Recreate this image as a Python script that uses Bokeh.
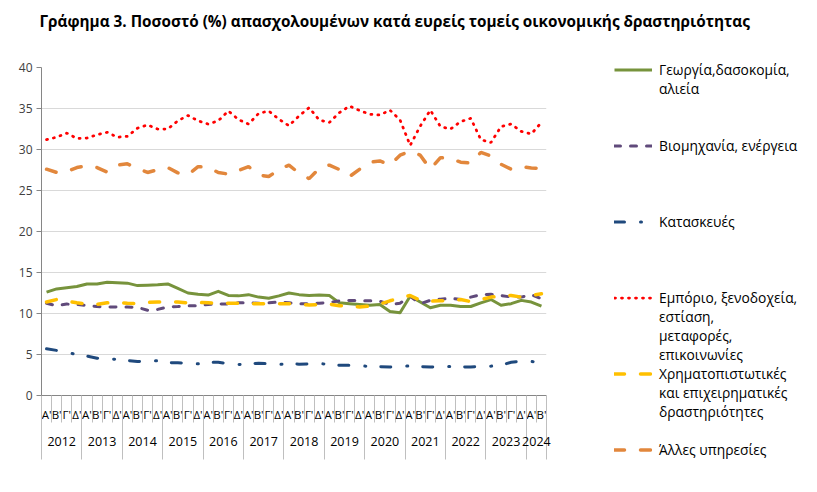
from bokeh.plotting import figure
from bokeh.models import FixedTicker, LinearAxis, Legend, LegendItem, Range1d
from bokeh.layouts import column
from bokeh.embed import file_html
from bokeh.resources import INLINE

# ---------------- data ----------------
title_text = "Γράφημα 3. Ποσοστό (%) απασχολουμένων κατά ευρείς τομείς οικονομικής δραστηριότητας"

years = ["2012", "2013", "2014", "2015", "2016", "2017", "2018",
         "2019", "2020", "2021", "2022", "2023", "2024"]
quarters_per_year = [4, 4, 4, 4, 4, 4, 4, 4, 4, 4, 4, 4, 2]
quarter_names = ["Α'", "Β'", "Γ'", "Δ'"]

series_names = [
    "Γεωργία,δασοκομία,\nαλιεία",
    "Βιομηχανία, ενέργεια",
    "Κατασκευές",
    "Εμπόριο, ξενοδοχεία,\nεστίαση,\nμεταφορές,\nεπικοινωνίες",
    "Χρηματοπιστωτικές\nκαι επιχειρηματικές\nδραστηριότητες",
    "Άλλες υπηρεσίες",
]

agriculture = [12.6, 13.0, 13.15, 13.3, 13.6, 13.6, 13.8, 13.75, 13.7, 13.4,
               13.45, 13.5, 13.6, 13.05, 12.5, 12.35, 12.25, 12.7, 12.2, 12.15,
               12.3, 12.0, 11.85, 12.15, 12.5, 12.3, 12.2, 12.25, 12.2, 11.3,
               11.2, 11.1, 11.0, 11.1, 10.25, 10.1, 12.1, 11.4, 10.7, 11.0,
               11.0, 10.85, 10.85, 11.3, 11.7, 11.0, 11.2, 11.6, 11.4, 10.9]

industry = [11.25, 10.95, 11.15, 11.1, 10.98, 10.85, 10.78, 10.8, 10.8, 10.75,
            10.4, 10.5, 10.8, 10.85, 10.95, 10.95, 11.1, 11.15, 11.17, 11.3,
            11.3, 11.25, 11.3, 11.4, 11.3, 11.2, 11.2, 11.25, 11.35, 11.55,
            11.6, 11.55, 11.55, 11.5, 11.1, 11.25, 12.1, 11.2, 11.6, 11.75,
            11.85, 11.7, 12.0, 12.3, 12.35, 12.2, 12.0, 12.0, 12.3, 11.8]

construction = [5.7, 5.5, 5.25, 5.0, 4.8, 4.55, 4.45, 4.4, 4.27, 4.15,
                4.2, 4.23, 4.0, 3.98, 3.92, 3.86, 4.05, 4.05, 3.9, 3.78,
                3.85, 3.94, 3.86, 3.78, 3.9, 3.82, 3.85, 3.9, 3.78, 3.68,
                3.68, 3.62, 3.55, 3.5, 3.47, 3.55, 3.6, 3.52, 3.47, 3.55,
                3.55, 3.5, 3.47, 3.55, 3.58, 3.7, 4.05, 4.2, 4.15, 4.0]

trade = [31.2, 31.5, 32.0, 31.35, 31.4, 31.8, 32.1, 31.5, 31.6, 32.6,
         33.0, 32.5, 32.5, 33.5, 34.15, 33.5, 33.1, 33.5, 34.7, 33.65,
         33.1, 34.4, 34.7, 33.7, 32.9, 34.1, 35.1, 33.6, 33.3, 34.5,
         35.3, 34.75, 34.3, 34.2, 34.8, 33.6, 30.5, 32.85, 34.8, 32.8,
         32.5, 33.4, 33.8, 31.2, 30.85, 32.8, 33.1, 32.2, 31.9, 33.3]

finance = [11.4, 11.7, 11.5, 11.3, 11.15, 11.1, 11.3, 11.35, 11.25, 11.2,
           11.35, 11.4, 11.4, 11.4, 11.3, 11.35, 11.3, 11.25, 11.25, 11.26,
           11.2, 11.2, 11.2, 11.2, 11.2, 11.1, 11.05, 11.1, 11.15, 10.95,
           10.9, 10.8, 10.9, 11.15, 11.55, 11.9, 12.2, 11.6, 11.5, 11.55,
           11.6, 11.7, 11.45, 11.7, 12.0, 12.1, 12.2, 12.0, 12.2, 12.4]

other_services = [27.6, 27.2, 27.3, 27.8, 28.0, 27.8, 27.25, 28.1, 28.25, 27.7,
                  27.2, 27.55, 27.8, 27.15, 26.9, 27.9, 27.85, 27.2, 27.0, 27.45,
                  27.9, 26.9, 26.7, 27.55, 28.1, 27.1, 26.45, 27.7, 28.1, 27.55,
                  26.7, 27.6, 28.45, 28.6, 28.1, 29.3, 29.8, 29.3, 27.6, 29.0,
                  28.9, 28.45, 28.35, 29.65, 29.2, 28.2, 27.6, 27.9, 27.75, 27.7]

y_ticks = [0, 5, 10, 15, 20, 25, 30, 35, 40]

# ---------------- derived positions ----------------
quarter_labels = []
for qn in quarters_per_year:
    quarter_labels += quarter_names[:qn]
n = len(quarter_labels)
x = [i + 0.5 for i in range(n)]

year_bounds = [0]
for qn in quarters_per_year:
    year_bounds.append(year_bounds[-1] + qn)
year_centers = [(year_bounds[k] + year_bounds[k + 1]) / 2 for k in range(len(years))]

FONT = "Open Sans"
GRID = "#D9D9D9"
AXIS = "#868686"
SEP = "#BFBFBF"
W = 815
TITLE_H = 40

# ---------------- title strip ----------------
t = figure(width=W, height=TITLE_H, output_backend="svg", toolbar_location=None,
           x_range=Range1d(0, 1), y_range=Range1d(0, 1),
           min_border_left=41, min_border_right=269, min_border_top=0,
           min_border_bottom=0, x_axis_location=None, y_axis_location=None,
           background_fill_color="white", border_fill_color="white")
t.outline_line_color = None
t.grid.visible = False
t.title.text = title_text
t.title.text_font = FONT
t.title.text_font_style = "bold"
t.title.text_font_size = "15.3px"
t.title.text_color = "black"
t.title.align = "left"
t.title.offset = -2
t.title.standoff = 16

# ---------------- main chart ----------------
p = figure(frame_width=505, frame_height=328, output_backend="svg",
           toolbar_location=None,
           x_range=Range1d(0, n), y_range=Range1d(0, 40),
           min_border_left=41, min_border_right=269, min_border_top=27,
           min_border_bottom=95, background_fill_color="white",
           border_fill_color="white")
p.outline_line_color = None

# y axis
ya = p.yaxis[0]
ya.ticker = FixedTicker(ticks=y_ticks)
ya.major_tick_out = 5
ya.major_tick_in = 0
ya.minor_tick_line_color = None
ya.axis_line_color = AXIS
ya.major_tick_line_color = AXIS
ya.major_label_text_font = FONT
ya.major_label_text_font_size = "12px"
ya.major_label_text_color = "#404040"
ya.major_label_standoff = 4
p.ygrid.grid_line_color = GRID
p.xgrid.grid_line_color = None

# quarter axis
xq = p.xaxis[0]
xq.ticker = FixedTicker(ticks=x, minor_ticks=list(range(n + 1)))
xq.major_label_overrides = {xi: lab for xi, lab in zip(x, quarter_labels)}
xq.major_tick_line_color = None
xq.major_tick_out = 0
xq.major_tick_in = 0
xq.minor_tick_line_color = SEP
xq.minor_tick_out = 27
xq.minor_tick_in = 0
xq.axis_line_color = AXIS
xq.major_label_standoff = -16
xq.major_label_text_font = FONT
xq.major_label_text_font_size = "11.5px"
xq.major_label_text_color = "black"

# year axis
xy = LinearAxis(ticker=FixedTicker(ticks=year_centers, minor_ticks=year_bounds),
                major_label_overrides={c: y for c, y in zip(year_centers, years)})
xy.axis_line_color = None
xy.major_tick_line_color = None
xy.major_tick_out = 0
xy.major_tick_in = 0
xy.minor_tick_line_color = SEP
xy.minor_tick_in = 27
xy.minor_tick_out = 35
xy.major_label_standoff = -23
xy.major_label_text_font = FONT
xy.major_label_text_font_size = "12.5px"
xy.major_label_text_color = "black"
p.add_layout(xy, "below")

# line styles
styles = [
    dict(line_color="#77933C", line_width=3, line_join="round"),
    dict(line_color="#604A7B", line_width=3, line_dash="6 10", line_cap="round"),
    dict(line_color="#1F497D", line_width=3, line_dash="10 16 1 15", line_cap="round"),
    dict(line_color="#FF0000", line_width=2.75, line_dash="1 6", line_cap="round"),
    dict(line_color="#FFC000", line_width=3.5, line_dash="10 16", line_cap="round"),
    dict(line_color="#E2873C", line_width=3.5, line_dash="10 16", line_cap="round"),
]
series = [agriculture, industry, construction, trade, finance, other_services]
renderers = [p.line(x, vals, **st) for vals, st in zip(series, styles)]

# ---------------- legend (one row per text line, 4 rows per entry) ----------------
ROWS_PER_ENTRY = 4
items = []
for k, (name, r) in enumerate(zip(series_names, renderers)):
    lines = name.split("\n")
    items.append(LegendItem(label=lines[0], renderers=[r]))
    for extra in lines[1:]:
        items.append(LegendItem(label=extra, renderers=[]))
    if k < len(series_names) - 1:
        for _ in range(ROWS_PER_ENTRY - len(lines)):
            items.append(LegendItem(label="\u00a0", renderers=[]))

legend = Legend(items=items, location=(68, -64), glyph_width=38, glyph_height=19,
                label_height=19, label_standoff=7, spacing=0, padding=0, margin=0,
                ncols=1, border_line_color=None, background_fill_alpha=0,
                label_text_font=FONT, label_text_font_size="13.8px",
                label_text_color="black")
p.add_layout(legend, "right")

layout = column(t, p)
open("out.html", "w").write(file_html(layout, INLINE))
